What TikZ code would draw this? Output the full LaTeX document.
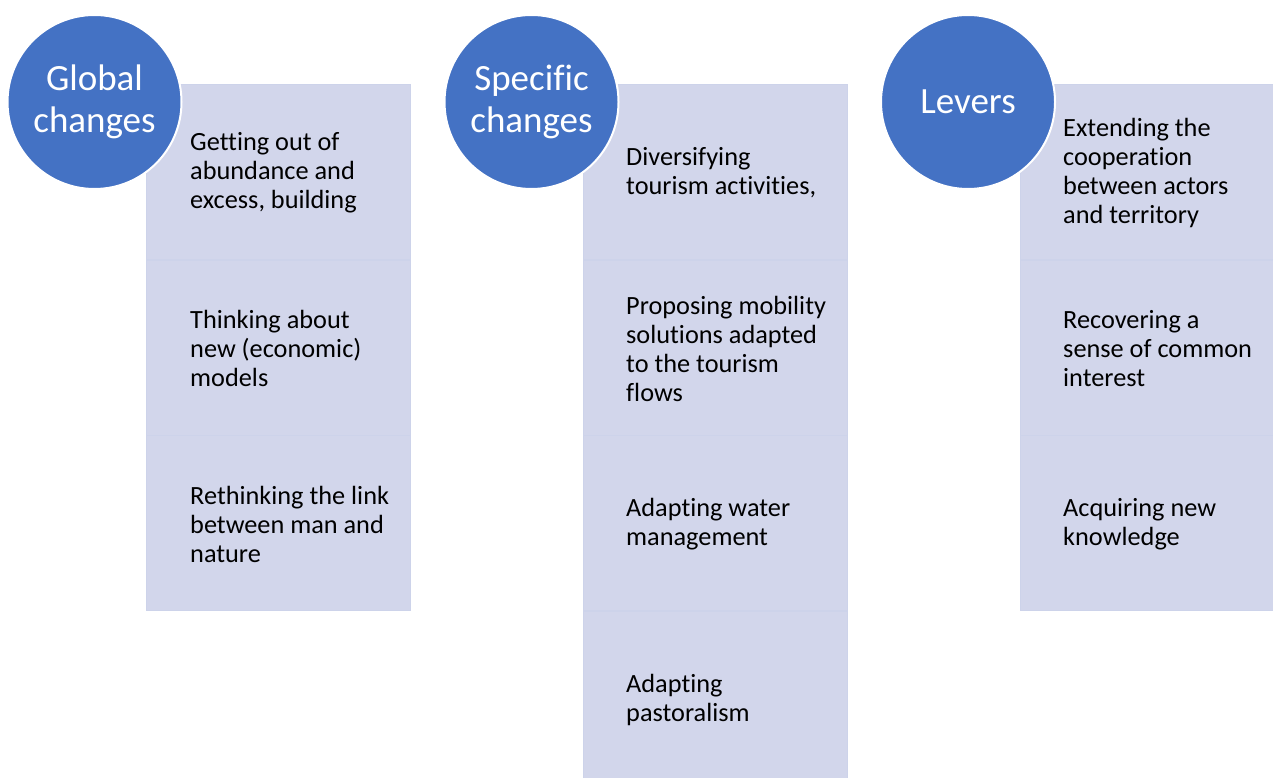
\documentclass[tikz,border=0pt]{standalone}
\usepackage{fontspec}
\setmainfont{Carlito}[Ligatures={NoCommon}]
\definecolor{boxfill}{HTML}{D2D6EB}
\definecolor{boxline}{HTML}{CDD3EA}
\definecolor{circfill}{HTML}{4472C4}
\tikzset{
  cell/.style={rectangle, fill=boxfill, draw=boxline, line width=1pt, minimum width=264pt, minimum height=175pt, inner sep=0pt, anchor=north west},
  celltext/.style={anchor=west, align=left, inner sep=0pt, text=black, font=\fontsize{26.3}{29}\selectfont},
  head/.style={circle, fill=circfill, draw=white, line width=2pt, minimum size=174pt, inner sep=0pt, align=center, text=white, font=\fontsize{37}{42}\selectfont}
}
\begin{document}
\begin{tikzpicture}[x=1pt,y=-1pt]
\useasboundingbox (0,0) rectangle (1273,778);
% column 1
\node[cell] (a1) at (146,84) {};
\node[cell] (a2) at (146,259.5) {};
\node[cell] (a3) at (146,435) {};
\node[celltext] (ta1) at ([xshift=44pt,yshift=-1pt]a1.west) {Getting out of\\abundance and\\excess, building};
\node[celltext] (ta2) at ([xshift=44pt,yshift=-1pt]a2.west) {Thinking about\\new (economic)\\models};
\node[celltext] (ta3) at ([xshift=44pt,yshift=-1pt]a3.west) {Rethinking the link\\between man and\\nature};
\node[head] (ha) at (94.5,102) {Global\\changes};
% column 2
\node[cell] (b1) at (583,84) {};
\node[cell] (b2) at (583,259.5) {};
\node[cell] (b3) at (583,435) {};
\node[cell] (b4) at (583,610.5) {};
\node[celltext] (tb1) at ([xshift=43pt,yshift=-1pt]b1.west) {Diversifying\\tourism activities,};
\node[celltext] (tb2) at ([xshift=43pt,yshift=-1pt]b2.west) {Proposing mobility\\solutions adapted\\to the tourism\\flows};
\node[celltext] (tb3) at ([xshift=43pt,yshift=-1pt]b3.west) {Adapting water\\management};
\node[celltext] (tb4) at ([xshift=43pt,yshift=-1pt]b4.west) {Adapting\\pastoralism};
\node[head] (hb) at (531.5,102) {Specific\\changes};
% column 3
\node[cell, minimum width=256pt] (c1) at (1020,84) {};
\node[cell, minimum width=256pt] (c2) at (1020,259.5) {};
\node[cell, minimum width=256pt] (c3) at (1020,435) {};
\node[celltext] (tc1) at ([xshift=43pt,yshift=-1pt]c1.west) {Extending the\\cooperation\\between actors\\and territory};
\node[celltext] (tc2) at ([xshift=43pt,yshift=-1pt]c2.west) {Recovering a\\sense of common\\interest};
\node[celltext] (tc3) at ([xshift=43pt,yshift=-1pt]c3.west) {Acquiring new\\knowledge};
\node[head] (hc) at (968,102) {Levers};
\end{tikzpicture}
\end{document}
